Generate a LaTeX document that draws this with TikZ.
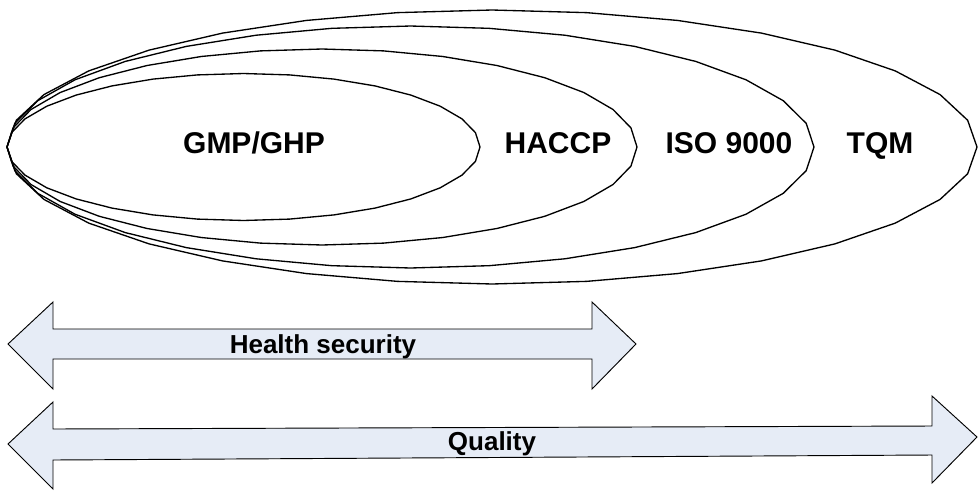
\documentclass[tikz,border=0pt]{standalone}
\usepackage{fontspec}
\setmainfont{Liberation Sans}
\definecolor{arrowfill}{RGB}{230,236,246}
\begin{document}
\begin{tikzpicture}[x=0.75pt,y=-0.75pt,
  ring/.style={draw=black,line width=1pt,line join=round},
  bigarrow/.style={draw=black,fill=arrowfill,line width=0.7pt,line join=miter},
  lab/.style={font=\bfseries\fontsize{22.5}{26}\selectfont,anchor=base,inner sep=0pt},
  alab/.style={font=\bfseries\fontsize{19.5}{23}\selectfont,anchor=base,inner sep=0pt}]
\useasboundingbox (0,0) rectangle (978,490);
% nested rings
\draw[ring] plot[samples=33,domain=0:360,variable=\t] ({492+485*cos(\t)},{147+137*sin(\t)}) -- cycle;
\draw[ring] plot[samples=33,domain=0:360,variable=\t] ({410.5+403.5*cos(\t)},{147+121*sin(\t)}) -- cycle;
\draw[ring] plot[samples=33,domain=0:360,variable=\t] ({322+315*cos(\t)},{147+98*sin(\t)}) -- cycle;
\draw[ring] plot[samples=33,domain=0:360,variable=\t] ({243.5+236.5*cos(\t)},{147+73.5*sin(\t)}) -- cycle;
\node[lab] (gmp) at (254,153) {GMP/GHP};
\node[lab] (haccp) at (558,153) {HACCP};
\node[lab] (iso) at (729,153) {ISO 9000};
\node[lab] (tqm) at (880,153) {TQM};
% arrows
\draw[bigarrow] (8,344) -- (53,302) -- (53,329) -- (592,329) -- (592,302) -- (636,344)
  -- (592,389) -- (592,359) -- (53,359) -- (53,389) -- cycle;
\node[alab] (health) at (323,353) {Health security};
\draw[bigarrow] (8,444) -- (53,402) -- (53,429) -- (932,426) -- (932,396) -- (977,437)
  -- (932,483) -- (932,455) -- (53,460) -- (53,489) -- cycle;
\node[alab] (quality) at (492,450) {Quality};
\end{tikzpicture}
\end{document}
